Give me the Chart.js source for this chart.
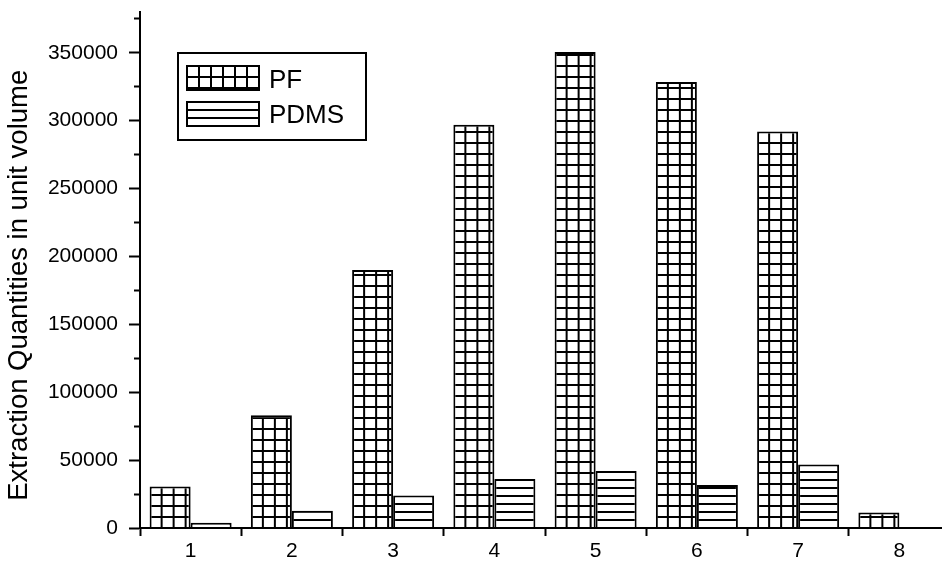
<!DOCTYPE html>
<html>
<head>
<meta charset="utf-8">
<script src="https://cdn.jsdelivr.net/npm/chart.js@4.4.0/dist/chart.umd.min.js"></script>
<style>
  html, body { margin: 0; padding: 0; background: #fff; overflow: hidden; }
  canvas { display: block; }
</style>
</head>
<body>
<canvas id="chart" width="960" height="561"></canvas>
<script>
// data
const categories = ['1', '2', '3', '4', '5', '6', '7', '8'];
const pfValues = [30500, 83000, 190000, 297000, 350500, 328500, 292000, 11500];
const pdmsValues = [3800, 12700, 24000, 36000, 42000, 31700, 46800, 500];
const seriesNames = ['PF', 'PDMS'];
const yMax = 380000;
const yMinorStep = 25000;
const yLabelStep = 50000;

const FONT = '"Liberation Sans", Arial, sans-serif';
const CAT_PCT = 0.81;

// hatch tiles: grid for PF, horizontal lines for PDMS
function makeTile(w, h, vertical) {
    const c = document.createElement('canvas');
    c.width = w;
    c.height = h;
    const g = c.getContext('2d');
    g.fillStyle = '#fff';
    g.fillRect(0, 0, w, h);
    g.fillStyle = '#000';
    g.fillRect(0, 0, w, 2);
    if (vertical) g.fillRect(0, 0, 2, h);
    return c;
}
const gridTile = makeTile(12, 11, true);
const lineTile = makeTile(12, 8, false);

function barPattern(tile, first) {
    return function (ctx) {
        const chart = ctx.chart;
        const pat = chart.ctx.createPattern(tile, 'repeat');
        const xs = chart.scales.x;
        const ys = chart.scales.y;
        if (!xs || !ys || ctx.dataIndex === undefined) return pat;
        const w = (xs.right - xs.left) / categories.length * CAT_PCT / 2;
        const center = xs.getPixelForValue(ctx.dataIndex);
        const left = first ? center - w : center;
        pat.setTransform(new DOMMatrix().translate(left - 1, ys.getPixelForValue(0) - 1));
        return pat;
    };
}

// boxed legend inside the plot, like the original
const boxLegend = {
    id: 'boxLegend',
    afterDraw(chart) {
        const c = chart.ctx;
        c.save();
        c.strokeStyle = '#000';
        c.lineWidth = 2;
        c.strokeRect(178, 53, 188, 87);

        const rows = [
            { tile: gridTile, y: 66, text: seriesNames[0], base: 88 },
            { tile: lineTile, y: 102, text: seriesNames[1], base: 123 }
        ];
        rows.forEach(r => {
            const pat = c.createPattern(r.tile, 'repeat');
            pat.setTransform(new DOMMatrix().translate(187 - 1, r.y - 1));
            c.fillStyle = pat;
            c.fillRect(187, r.y, 72, 24);
            c.lineWidth = 2;
            c.strokeRect(187, r.y, 72, 24);
            c.fillStyle = '#000';
            c.font = '26px ' + FONT;
            c.textBaseline = 'alphabetic';
            c.textAlign = 'left';
            c.fillText(r.text, 269, r.base);
        });
        c.restore();
    }
};

new Chart(document.getElementById('chart').getContext('2d'), {
    type: 'bar',
    data: {
        labels: categories,
        datasets: [{
            label: seriesNames[0],
            data: pfValues,
            backgroundColor: barPattern(gridTile, true),
            borderColor: '#000',
            borderWidth: 2
        }, {
            label: seriesNames[1],
            data: pdmsValues,
            backgroundColor: barPattern(lineTile, false),
            borderColor: '#000',
            borderWidth: 2
        }]
    },
    options: {
        responsive: false,
        animation: false,
        layout: { padding: { top: 12, right: 10, left: 0, bottom: 0 } },
        datasets: {
            bar: { categoryPercentage: CAT_PCT, barPercentage: 1.0 }
        },
        plugins: {
            legend: { display: false },
            tooltip: { enabled: false }
        },
        scales: {
            x: {
                grid: {
                    offset: true,
                    drawOnChartArea: false,
                    tickLength: 8,
                    tickWidth: 2,
                    tickColor: '#000'
                },
                border: { color: '#000', width: 2 },
                ticks: {
                    color: '#000',
                    font: { family: FONT, size: 21 },
                    padding: 3
                },
                afterFit: s => {
                    s.height = 33;
                    s.paddingLeft = 0;
                    s.paddingRight = 0;
                }
            },
            y: {
                min: 0,
                max: yMax,
                grid: {
                    drawOnChartArea: false,
                    tickLength: 11,
                    tickWidth: 2,
                    tickColor: '#000',
                    tickBorderDash: ctx => (ctx.tick && ctx.tick.value % yLabelStep) ? [0, 5, 6, 50] : []
                },
                border: { color: '#000', width: 2 },
                ticks: {
                    autoSkip: false,
                    color: '#000',
                    font: { family: FONT, size: 21 },
                    padding: 11,
                    callback: v => (v % yLabelStep === 0 ? String(v) : '')
                },
                afterBuildTicks: s => {
                    const t = [];
                    for (let v = 0; v < yMax; v += yMinorStep) t.push({ value: v });
                    s.ticks = t;
                },
                title: {
                    display: true,
                    text: 'Extraction Quantities in unit volume    ',
                    color: '#000',
                    font: { family: FONT, size: 27.5 },
                    padding: { top: 3, bottom: 0 }
                },
                afterFit: s => {
                    s.width = 140;
                    s.paddingTop = 0;
                    s.paddingBottom = 0;
                }
            }
        }
    },
    plugins: [boxLegend]
});
</script>
</body>
</html>
